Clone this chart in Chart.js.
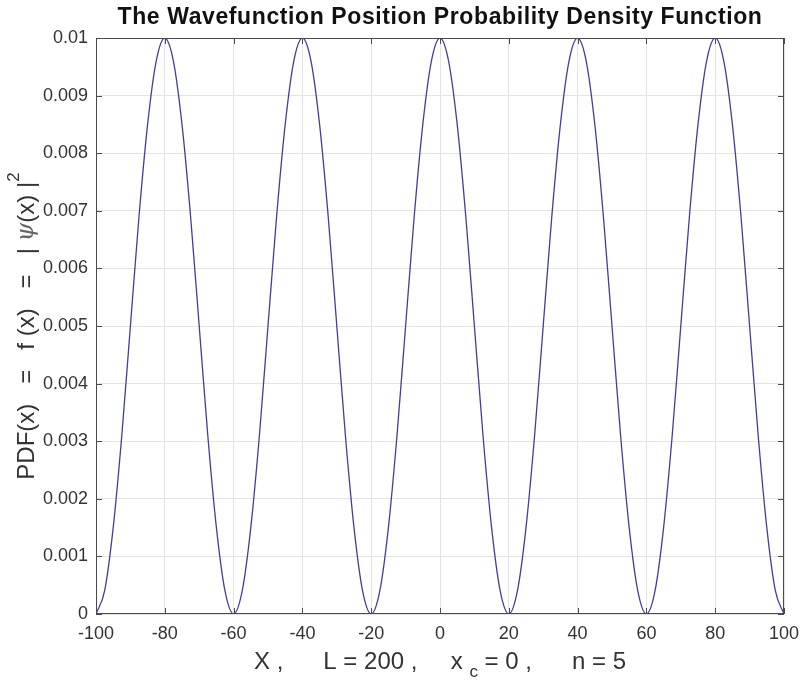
<!DOCTYPE html>
<html>
<head>
<meta charset="utf-8">
<script src="https://cdn.jsdelivr.net/npm/chart.js@4/dist/chart.umd.min.js"></script>
<style>
    html, body { margin: 0; padding: 0; background: #fff; }
    #wrap { width: 802px; height: 683px; position: relative; }
</style>
</head>
<body>
<div id="wrap"><canvas id="pdf-chart" width="802" height="683"></canvas></div>
<script>
const xValues = [
    -100, -97.5, -95, -92.5, -90, -87.5, -85, -82.5, -80, -77.5, -75, -72.5, -70, -67.5, -65, -62.5,
    -60, -57.5, -55, -52.5, -50, -47.5, -45, -42.5, -40, -37.5, -35, -32.5, -30, -27.5, -25, -22.5,
    -20, -17.5, -15, -12.5, -10, -7.5, -5, -2.5, 0, 2.5, 5, 7.5, 10, 12.5, 15, 17.5,
    20, 22.5, 25, 27.5, 30, 32.5, 35, 37.5, 40, 42.5, 45, 47.5, 50, 52.5, 55, 57.5,
    60, 62.5, 65, 67.5, 70, 72.5, 75, 77.5, 80, 82.5, 85, 87.5, 90, 92.5, 95, 97.5, 100,
];
const pdfValues = [
    0, 0.0004, 0.0015, 0.0031, 0.005, 0.0069, 0.0085, 0.0096, 0.01, 0.0096, 0.0085, 0.0069, 0.005, 0.0031, 0.0015, 0.0004,
    0, 0.0004, 0.0015, 0.0031, 0.005, 0.0069, 0.0085, 0.0096, 0.01, 0.0096, 0.0085, 0.0069, 0.005, 0.0031, 0.0015, 0.0004,
    0, 0.0004, 0.0015, 0.0031, 0.005, 0.0069, 0.0085, 0.0096, 0.01, 0.0096, 0.0085, 0.0069, 0.005, 0.0031, 0.0015, 0.0004,
    0, 0.0004, 0.0015, 0.0031, 0.005, 0.0069, 0.0085, 0.0096, 0.01, 0.0096, 0.0085, 0.0069, 0.005, 0.0031, 0.0015, 0.0004,
    0, 0.0004, 0.0015, 0.0031, 0.005, 0.0069, 0.0085, 0.0096, 0.01, 0.0096, 0.0085, 0.0069, 0.005, 0.0031, 0.0015, 0.0004,
    0,
];
const xTicks = [-100, -80, -60, -40, -20, 0, 20, 40, 60, 80, 100];
const yTicks = [0, 0.001, 0.002, 0.003, 0.004, 0.005, 0.006, 0.007, 0.008, 0.009, 0.01];

const titleText = 'The Wavefunction Position Probability Density Function';
const FONT = '"Liberation Sans", Arial, sans-serif';

// draws a run of text pieces (sub/superscripts, italics) centred on a point
function drawRich(ctx, parts, cx, cy, rotate, spacing) {
    ctx.save();
    ctx.translate(cx, cy);
    if (rotate) {
        ctx.rotate(-Math.PI / 2);
    }
    ctx.letterSpacing = spacing || '0px';
    let total = 0;
    parts.forEach(p => {
        ctx.font = p.font;
        total += ctx.measureText(p.text).width;
    });
    let x = -total / 2;
    ctx.textBaseline = 'middle';
    ctx.textAlign = 'left';
    parts.forEach(p => {
        ctx.font = p.font;
        ctx.fillStyle = p.color || '#333';
        ctx.fillText(p.text, x, p.dy || 0);
        x += ctx.measureText(p.text).width;
    });
    ctx.restore();
}

const labelsPlugin = {
    id: 'labels',
    afterDraw(chart) {
        const ctx = chart.ctx;
        const area = chart.chartArea;
        const xs = chart.scales.x;
        const ys = chart.scales.y;

        // box + inward ticks (matlab look)
        ctx.save();
        ctx.strokeStyle = '#4a4a4a';
        ctx.lineWidth = 1;
        ctx.strokeRect(area.left + 0.5, area.top + 0.5, area.right - area.left - 1, area.bottom - area.top - 1);
        ctx.beginPath();
        xTicks.forEach(v => {
            const px = Math.round(xs.getPixelForValue(v)) + 0.5;
            ctx.moveTo(px, area.bottom);
            ctx.lineTo(px, area.bottom - 6);
            ctx.moveTo(px, area.top);
            ctx.lineTo(px, area.top + 6);
        });
        yTicks.forEach(v => {
            const py = Math.round(ys.getPixelForValue(v)) + 0.5;
            ctx.moveTo(area.left, py);
            ctx.lineTo(area.left + 6, py);
            ctx.moveTo(area.right, py);
            ctx.lineTo(area.right - 6, py);
        });
        ctx.stroke();
        ctx.restore();

        const cx = (area.left + area.right) / 2;
        drawRich(ctx, [{ text: titleText, font: 'bold 23px ' + FONT, color: '#111' }], cx, 18, false, '0.6px');

        const big = '24px ' + FONT;
        const small = '17px ' + FONT;
        drawRich(ctx, [
            { text: 'X ,      L = 200 ,     x ', font: big },
            { text: 'c', font: small, dy: 10 },
            { text: ' = 0 ,      n = 5', font: big },
        ], cx, 662, false);

        drawRich(ctx, [
            { text: 'PDF(x)   =   f (x)   =   | ', font: big },
            { text: 'ψ', font: 'italic 24px "DejaVu Serif", serif', color: '#666' },
            { text: '(x) |', font: big },
            { text: '2', font: small, dy: -13 },
        ], 27, (area.top + area.bottom) / 2, true);
    },
};

new Chart(document.getElementById('pdf-chart'), {
    type: 'line',
    data: {
        datasets: [
            {
                label: 'PDF',
                data: xValues.map((x, i) => ({ x: x, y: pdfValues[i] })),
                borderColor: '#3f3f9c',
                borderWidth: 1.3,
                pointRadius: 0,
                cubicInterpolationMode: 'monotone',
                fill: false,
            },
        ],
    },
    options: {
        responsive: false,
        animation: false,
        layout: { padding: { top: 38, right: 18, left: 0, bottom: 0 } },
        plugins: {
            legend: { display: false },
            tooltip: { enabled: false },
        },
        scales: {
            x: {
                type: 'linear',
                min: -100,
                max: 100,
                afterBuildTicks: s => { s.ticks = xTicks.map(v => ({ value: v })); },
                grid: { color: '#e3e3e3', drawTicks: false },
                border: { display: false },
                ticks: {
                    padding: 9,
                    color: '#333',
                    font: { family: FONT, size: 18 },
                    maxRotation: 0,
                    callback: v => String(v),
                },
                afterFit: s => {
                    s.height = 69;
                    s.paddingLeft = 0;
                    s.paddingRight = 0;
                },
            },
            y: {
                min: 0,
                max: 0.01,
                afterBuildTicks: s => { s.ticks = yTicks.map(v => ({ value: v })); },
                grid: { color: '#e3e3e3', drawTicks: false },
                border: { display: false },
                ticks: {
                    padding: 8,
                    color: '#333',
                    font: { family: FONT, size: 18 },
                    callback: v => (v === 0 ? '0' : String(+v.toFixed(3))),
                },
                afterFit: s => {
                    s.width = 96;
                    s.paddingTop = 0;
                    s.paddingBottom = 0;
                },
            },
        },
    },
    plugins: [labelsPlugin],
});
</script>
</body>
</html>
